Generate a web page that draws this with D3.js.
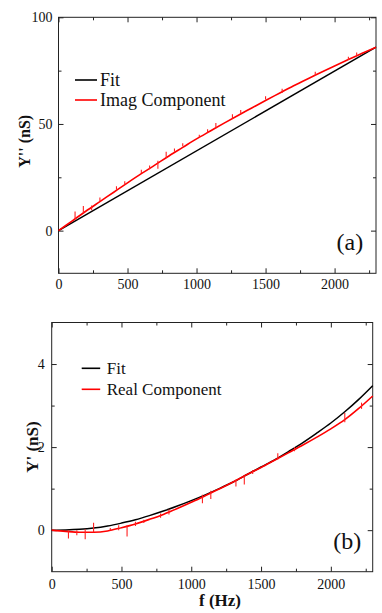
<!DOCTYPE html>
<html>
<head>
<meta charset="utf-8">
<script src="https://d3js.org/d3.v7.min.js"></script>
<style>
  body { margin: 0; background: #fff; }
</style>
</head>
<body>
<div id="vis"></div>
<script>
var SERIF = "'Liberation Serif', 'Times New Roman', 'DejaVu Serif', serif";

// frequency grid used for both panels (Hz)
var freq = [0, 100, 200, 300, 400, 500, 600, 700, 800, 900, 1000, 1100,
            1200, 1300, 1400, 1500, 1600, 1700, 1800, 1900, 2000, 2100, 2200, 2300];

// panel (a): imaginary part Y'' (nS)
var imagY = [0, 4.6, 9.2, 13.6, 18.0, 22.4, 26.7, 30.8, 35.0, 39.0, 43.0, 46.7,
             50.4, 54.0, 57.5, 61.0, 64.4, 67.8, 71.0, 74.1, 77.2, 80.2, 83.1, 86.0];
var imagFitF = [0, 2300];
var imagFitY = [0, 86];
// spikes at mains harmonics: freq, low, high
var imagSpikeF  = [120, 180, 240, 300, 420, 480, 600, 660, 720, 780, 840, 900, 1020, 1080, 1140, 1260, 1320, 1500, 1620, 1860, 2100, 2160];
var imagSpikeLo = [5.4, 8.2, 9.5, 13.5, 19.2, 21.5, 27.0, 28.8, 29.0, 34.0, 37.0, 39.6, 43.5, 46.0, 48.0, 52.5, 55.0, 61.5, 64.5, 72.5, 80.0, 82.0];
var imagSpikeHi = [9.0, 11.5, 11.8, 15.5, 20.8, 23.2, 28.5, 30.5, 32.8, 37.0, 38.5, 41.0, 45.0, 47.5, 50.5, 54.5, 56.5, 63.0, 66.5, 74.5, 81.5, 83.5];

// panel (b): real part Y' (nS)
var realY = [0, -0.03, -0.05, -0.05, -0.02, 0.06, 0.15, 0.26, 0.38, 0.52, 0.67, 0.83,
             0.99, 1.16, 1.34, 1.51, 1.69, 1.87, 2.05, 2.24, 2.44, 2.66, 2.93, 3.23];
var realFitY = [0, 0.005, 0.02, 0.05, 0.1, 0.17, 0.25, 0.35, 0.46, 0.58, 0.71, 0.85,
                1.0, 1.16, 1.34, 1.52, 1.70, 1.90, 2.11, 2.34, 2.58, 2.85, 3.15, 3.48];
var realSpikeF  = [120, 180, 240, 300, 420, 480, 540, 600, 660, 780, 840, 1080, 1140, 1320, 1380, 1440, 1620, 1740, 2100, 2220];
var realSpikeLo = [-0.2, -0.12, -0.22, -0.05, 0.0, 0.0, -0.15, 0.1, 0.17, 0.3, 0.38, 0.65, 0.75, 1.05, 1.1, 1.35, 1.7, 1.9, 2.6, 2.92];
var realSpikeHi = [0.0, 0.0, 0.02, 0.18, 0.05, 0.12, 0.12, 0.2, 0.25, 0.4, 0.5, 0.85, 0.95, 1.22, 1.3, 1.45, 1.85, 2.0, 2.82, 3.07];

// axis ticks
var xMajor = [0, 500, 1000, 1500, 2000];
var xMinor = [250, 750, 1250, 1750, 2250];
var yMajorA = [0, 50, 100], yMinorA = [25, 75];
var yMajorB = [0, 2, 4], yMinorB = [1, 3];

var svg = d3.select("#vis")
  .append("svg")
  .attr("width", 382)
  .attr("height", 613);

function drawPanel(opt) {
  var w = opt.right - opt.left, h = opt.bottom - opt.top;
  var g = svg.append("g")
    .attr("transform", "translate(" + opt.left + "," + opt.top + ")");

  var x = d3.scaleLinear().domain([0, 2300]).range([0, w]);
  var y = d3.scaleLinear().domain(opt.yDomain).range([h, 0]);

  // ticks on all four sides, pointing inward
  function ticks(axis, vals, len, labels, tx) {
    var a = g.append("g")
      .attr("transform", tx || null)
      .call(axis.tickValues(vals).tickSize(-len).tickSizeOuter(0)
        .tickPadding(labels ? opt.pad : 0)
        .tickFormat(labels ? d3.format("d") : ""));
    // axis sets its own font, so override afterwards
    a.attr("font-family", SERIF).attr("font-size", 14);
    a.select(".domain").remove();
    a.selectAll("text").attr("fill", "#111");
    a.selectAll("line").attr("stroke", "#222");
    return a;
  }
  ticks(d3.axisBottom(x), xMajor, 5, true, "translate(0," + h + ")");
  ticks(d3.axisBottom(x), xMinor, 3, false, "translate(0," + h + ")");
  ticks(d3.axisTop(x), xMajor, 5, false);
  ticks(d3.axisTop(x), xMinor, 3, false);
  ticks(d3.axisLeft(y), opt.yMajor, 5, true);
  ticks(d3.axisLeft(y), opt.yMinor, 3, false);
  ticks(d3.axisRight(y), opt.yMajor, 5, false, "translate(" + w + ",0)");
  ticks(d3.axisRight(y), opt.yMinor, 3, false, "translate(" + w + ",0)");

  g.append("rect")
    .attr("width", w)
    .attr("height", h)
    .attr("fill", "none")
    .attr("stroke", "#222")
    .attr("stroke-width", 1);

  var line = d3.line()
    .x(function(d) { return x(d[0]); })
    .y(function(d) { return y(d[1]); })
    .curve(d3.curveMonotoneX);

  // fit
  g.append("path")
    .datum(d3.zip(opt.fitF, opt.fitY))
    .attr("fill", "none")
    .attr("stroke", "#000")
    .attr("stroke-width", 1.5)
    .attr("d", line);

  // measured component
  g.append("path")
    .datum(d3.zip(freq, opt.dataY))
    .attr("fill", "none")
    .attr("stroke", "#ff0000")
    .attr("stroke-width", 1.6)
    .attr("d", line);

  g.selectAll(".spike")
    .data(d3.zip(opt.spikeF, opt.spikeLo, opt.spikeHi))
    .enter().append("line")
    .attr("x1", function(d) { return x(d[0]); })
    .attr("x2", function(d) { return x(d[0]); })
    .attr("y1", function(d) { return y(d[1]); })
    .attr("y2", function(d) { return y(d[2]); })
    .attr("stroke", "#ff2020")
    .attr("stroke-width", 1.1);

  // legend
  var lg = opt.legend;
  [["Fit", "#000"], [opt.name, "#ff0000"]].forEach(function(item, i) {
    var ly = lg.y + i * lg.dy;
    g.append("line")
      .attr("x1", lg.x1).attr("x2", lg.x2)
      .attr("y1", ly).attr("y2", ly)
      .attr("stroke", item[1])
      .attr("stroke-width", 1.6);
    g.append("text")
      .attr("x", lg.tx)
      .attr("y", ly + 6)
      .style("font-family", SERIF)
      .style("font-size", lg.size + "px")
      .attr("fill", "#111")
      .text(item[0]);
  });

  g.append("text")
    .attr("x", w - 39.5)
    .attr("y", opt.tagY)
    .style("font-family", SERIF)
    .style("font-size", "24px")
    .attr("fill", "#111")
    .text(opt.tag);

  g.append("text")
    .attr("transform", "translate(" + opt.labX + "," + (h / 2 + opt.labDy) + ") rotate(-90)")
    .attr("text-anchor", "middle")
    .style("font-family", SERIF)
    .style("font-size", opt.labSize + "px")
    .style("font-weight", "bold")
    .attr("fill", "#111")
    .text(opt.yLabel);

  return g;
}

drawPanel({
  left: 58.5, right: 376, top: 17.3, bottom: 273.3,
  yDomain: [-20, 100], yMajor: yMajorA, yMinor: yMinorA, pad: 6,
  fitF: imagFitF, fitY: imagFitY, dataY: imagY,
  spikeF: imagSpikeF, spikeLo: imagSpikeLo, spikeHi: imagSpikeHi,
  name: "Imag Component",
  legend: { x1: 16.5, x2: 38.5, tx: 41.5, y: 62.7, dy: 20, size: 18 },
  tag: "(a)", tagY: 233,
  yLabel: "Y'' (nS)", labX: -29, labDy: -4, labSize: 16
});

drawPanel({
  left: 51.7, right: 372.7, top: 322.5, bottom: 571.7,
  yDomain: [-1, 5], yMajor: yMajorB, yMinor: yMinorB, pad: 7,
  fitF: freq, fitY: realFitY, dataY: realY,
  spikeF: realSpikeF, spikeLo: realSpikeLo, spikeHi: realSpikeHi,
  name: "Real Component",
  legend: { x1: 30, x2: 48.5, tx: 55, y: 45.8, dy: 21, size: 17 },
  tag: "(b)", tagY: 226.5,
  yLabel: "Y' (nS)", labX: -14, labDy: 0, labSize: 17
});

svg.append("text")
  .attr("x", 220)
  .attr("y", 606)
  .attr("text-anchor", "middle")
  .style("font-family", SERIF)
  .style("font-size", "17px")
  .style("font-weight", "bold")
  .attr("fill", "#111")
  .text("f (Hz)");
</script>
</body>
</html>
